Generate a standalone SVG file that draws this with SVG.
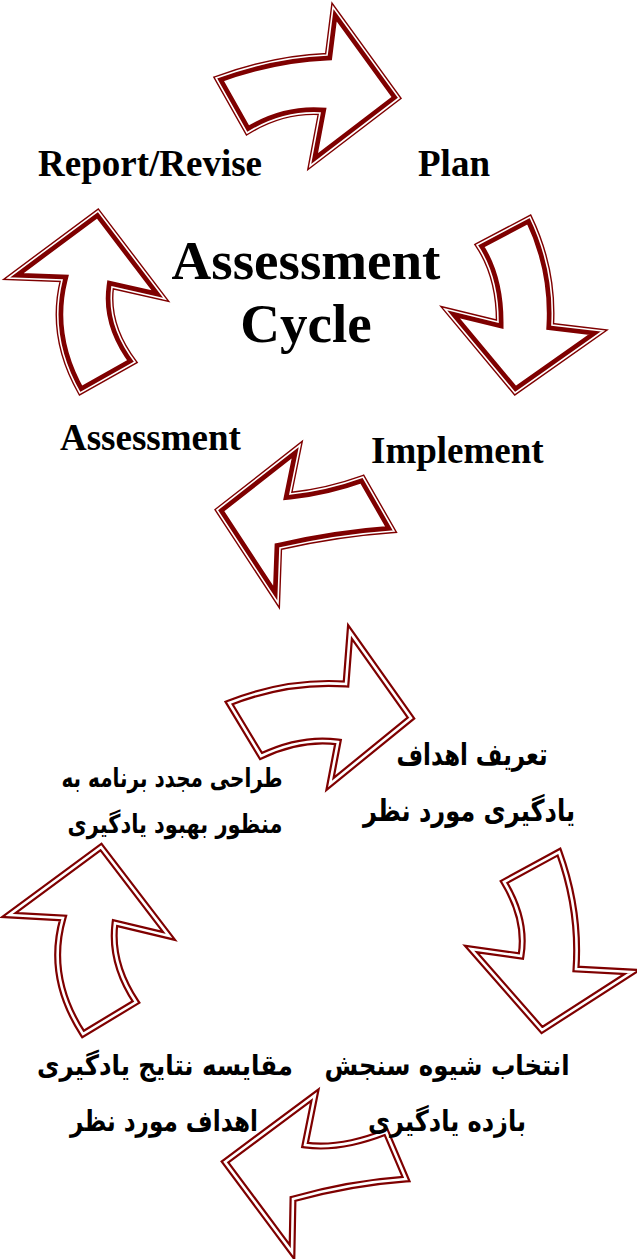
<svg xmlns="http://www.w3.org/2000/svg" xmlns:xlink="http://www.w3.org/1999/xlink" width="637" height="1259" viewBox="0 0 637 1259">
<style>
.en{font-family:"Liberation Serif","Times New Roman",serif;font-weight:bold;fill:#000}
.fa{font-family:"DejaVu Sans","Noto Sans",sans-serif;font-weight:bold;fill:#000;text-anchor:middle}
.fill{fill:#fff;stroke:none}
.inner{fill:none;stroke:#7f0000;stroke-width:11;stroke-linejoin:miter}
.outer{fill:none;stroke:#7f0000;stroke-width:4.4;stroke-linejoin:miter}
.gap{fill:none;stroke:#fff;stroke-width:1.6;stroke-linejoin:miter}
.bo{fill:#fff;stroke:#7f0000;stroke-width:7;stroke-linejoin:miter}
.bg{fill:none;stroke:#fff;stroke-width:2.6;stroke-linejoin:miter}
</style>
<defs>
<path id="p1" d="M216,78 Q274,57 327,55 L333,7 L399,98 L310,166 L320,113 Q282,111 247,133 Z"/>
<path id="p2" d="M477,245 L530,217 Q555,269 552,325 L603,331 L515,393 L445,309 L498,322 Q498,276 477,245 Z"/>
<path id="p3" d="M98,211 L165,299 L112,287 Q107,325 135,362 L80,393 Q48,337 62,280 L8,278 Z"/>
<path id="p4" d="M217,510 L300,445 L290,494 Q327,490 363,477 L394,531 Q337,535 280,548 L278,603 Z"/>
<path id="p5" d="M229,703 Q287,680 346,684 L350,632 L411,718 L330,784 L338,742 Q301,737 261,756 Z"/>
<path id="p6" d="M504,882 L559,852 Q580,910 576,969 L632,972 L542,1030 L471,949 L521,956 Q527,920 504,882 Z"/>
<path id="p7" d="M101,847 L169,936 L115,923 Q110,963 136,1002 L83,1034 Q46,977 63,918 L9,915 Z"/>
<path id="p8" d="M225,1162 L315,1095 L305,1145 Q340,1150 386,1132 L406,1179 Q350,1183 293,1199 L292,1252 Z"/>
<clipPath id="c1"><path d="M216,78 Q274,57 327,55 L333,7 L399,98 L310,166 L320,113 Q282,111 247,133 Z"/></clipPath>
<clipPath id="c2"><path d="M477,245 L530,217 Q555,269 552,325 L603,331 L515,393 L445,309 L498,322 Q498,276 477,245 Z"/></clipPath>
<clipPath id="c3"><path d="M98,211 L165,299 L112,287 Q107,325 135,362 L80,393 Q48,337 62,280 L8,278 Z"/></clipPath>
<clipPath id="c4"><path d="M217,510 L300,445 L290,494 Q327,490 363,477 L394,531 Q337,535 280,548 L278,603 Z"/></clipPath>
</defs>
<rect width="637" height="1259" fill="#fff"/>
<g id="connectors">
<g id="arrow-plan">
<use xlink:href="#p1" class="fill"/><g clip-path="url(#c1)"><use xlink:href="#p1" class="inner"/></g><use xlink:href="#p1" class="outer"/><use xlink:href="#p1" class="gap"/>
</g>
<g id="arrow-implement">
<use xlink:href="#p2" class="fill"/><g clip-path="url(#c2)"><use xlink:href="#p2" class="inner"/></g><use xlink:href="#p2" class="outer"/><use xlink:href="#p2" class="gap"/>
</g>
<g id="arrow-report">
<use xlink:href="#p3" class="fill"/><g clip-path="url(#c3)"><use xlink:href="#p3" class="inner"/></g><use xlink:href="#p3" class="outer"/><use xlink:href="#p3" class="gap"/>
</g>
<g id="arrow-assessment">
<use xlink:href="#p4" class="fill"/><g clip-path="url(#c4)"><use xlink:href="#p4" class="inner"/></g><use xlink:href="#p4" class="outer"/><use xlink:href="#p4" class="gap"/>
</g>
<g id="arrow-b1"><use xlink:href="#p5" class="bo"/><use xlink:href="#p5" class="bg"/></g>
<g id="arrow-b2"><use xlink:href="#p6" class="bo"/><use xlink:href="#p6" class="bg"/></g>
<g id="arrow-b3"><use xlink:href="#p7" class="bo"/><use xlink:href="#p7" class="bg"/></g>
<g id="arrow-b4"><use xlink:href="#p8" class="bo"/><use xlink:href="#p8" class="bg"/></g>
</g>
<g id="title"><text class="en" x="306" y="279" font-size="55" text-anchor="middle">Assessment</text><text class="en" x="306" y="342" font-size="55" text-anchor="middle">Cycle</text></g>
<g id="node-report"><text class="en" x="38" y="176" font-size="37">Report/Revise</text></g>
<g id="node-plan"><text class="en" x="418" y="176" font-size="37">Plan</text></g>
<g id="node-assessment"><text class="en" x="60" y="450" font-size="37">Assessment</text></g>
<g id="node-implement"><text class="en" x="371" y="463" font-size="37">Implement</text></g>
<g id="node-fa1"><text class="fa" x="472" y="765" font-size="30" textLength="151" lengthAdjust="spacingAndGlyphs">تعریف اهداف</text><text class="fa" x="469" y="821" font-size="30" textLength="212" lengthAdjust="spacingAndGlyphs">یادگیری مورد نظر</text></g>
<g id="node-fa2"><text class="fa" x="447" y="1075" font-size="28" textLength="245" lengthAdjust="spacingAndGlyphs">انتخاب شیوه سنجش</text><text class="fa" x="447" y="1131" font-size="29" textLength="158" lengthAdjust="spacingAndGlyphs">بازده یادگیری</text></g>
<g id="node-fa3"><text class="fa" x="165" y="1075" font-size="28" textLength="256" lengthAdjust="spacingAndGlyphs">مقایسه نتایج یادگیری</text><text class="fa" x="164" y="1131" font-size="29" textLength="188" lengthAdjust="spacingAndGlyphs">اهداف مورد نظر</text></g>
<g id="node-fa4"><text class="fa" x="172" y="787" font-size="26" textLength="221" lengthAdjust="spacingAndGlyphs">طراحی مجدد برنامه به</text><text class="fa" x="175" y="833" font-size="26" textLength="215" lengthAdjust="spacingAndGlyphs">منظور بهبود یادگیری</text></g>
</svg>
